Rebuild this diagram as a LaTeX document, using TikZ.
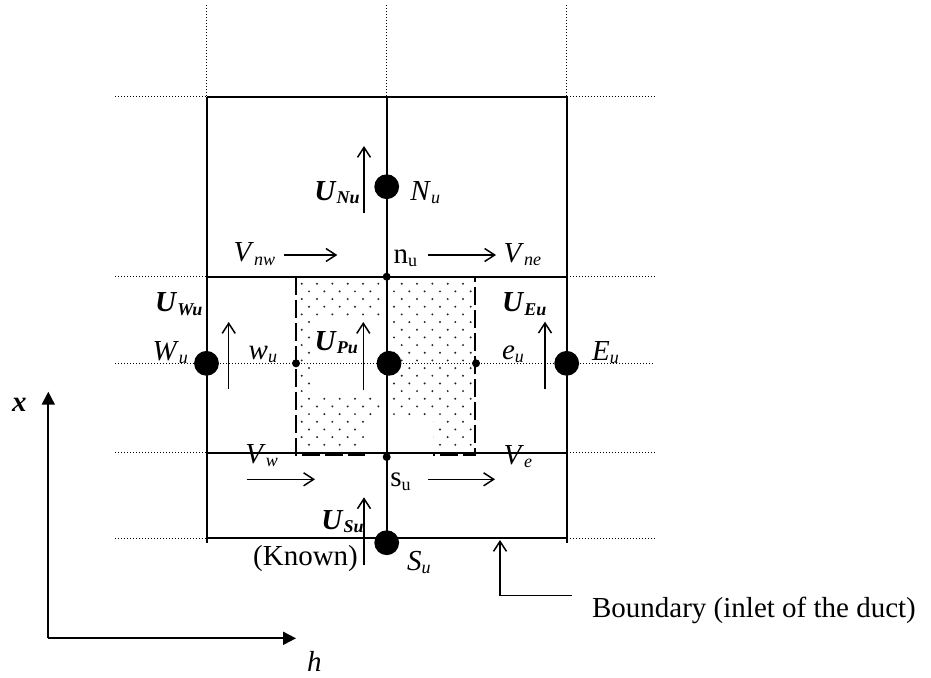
\documentclass[tikz,border=0pt]{standalone}
\usepackage{fontspec}
\setmainfont{Liberation Serif}
\usetikzlibrary{arrows.meta}
\newcommand{\sbs}[1]{\raisebox{-1.8pt}{\fontsize{9}{10}\selectfont #1}}
\newcommand{\bsub}[2]{\textbf{\textit{#1}}\sbs{\textbf{\textit{#2}}}}
\newcommand{\isub}[2]{\textit{#1}\sbs{\textit{#2}}}
\begin{document}
\begin{tikzpicture}[x=0.5pt,y=-0.5pt,
  lab/.style={inner sep=0pt, anchor=base west, font=\fontsize{14.5}{17}\selectfont},
  labr/.style={lab, anchor=base east},
  gridl/.style={line width=1pt},
  dotl/.style={line width=0.5pt, dash pattern=on 0.5pt off 1pt},
  dashl/.style={line width=1pt, dash pattern=on 9pt off 2.5pt},
  bigdot/.style={circle, fill, inner sep=0pt, minimum size=12.4pt},
  smalldot/.style={circle, fill, inner sep=0pt, minimum size=4pt},
  flow/.style={line width=0.75pt, -{Straight Barb[length=5pt,width=6.5pt]}},
  axisarr/.style={line width=1pt, -{Triangle[length=6.5pt,width=6.5pt]}}
]
\useasboundingbox (0,0) rectangle (931,677);

% dotted fill of the control volume
\foreach \k in {0,2,...,20}{
  \foreach \j in {0,...,5}{\fill[black!85] ({301.7+15.33*\j},{283.7+7.67*\k}) circle[radius=0.55pt];}
  \foreach \j in {0,...,4}{\fill[black!85] ({401.7+15.33*\j},{283.7+7.67*\k}) circle[radius=0.55pt];}
}
\foreach \k in {1,3,...,21}{
  \foreach \j in {0,...,4}{\fill[black!85] ({309+15.33*\j},{283.7+7.67*\k}) circle[radius=0.55pt];}
  \foreach \j in {0,...,5}{\fill[black!85] ({394+15.33*\j},{283.7+7.67*\k}) circle[radius=0.55pt];}
}
% dashed control volume
\draw[dashl] (296,277) rectangle (475,454.7);
% white areas
\fill[white] (312,317) rectangle (385,393);
\fill[white] (365,418) rectangle (433,460);

% dotted grid extensions
\foreach \xx in {206.5,386.7,566.7}{\draw[dotl] (\xx,5) -- (\xx,96.7);}
\foreach \yy in {96.7,276.7,452.7,538.3}{
  \draw[dotl] (115,\yy) -- (206.5,\yy);
  \draw[dotl] (566.7,\yy) -- (655,\yy);
}
\draw[dotl] (115,363.3) -- (655,363.3);

% solid grid
\draw[gridl] (206.5,96.7) -- (566.7,96.7);
\draw[gridl] (206.5,276.7) -- (566.7,276.7);
\draw[gridl] (206.5,452.7) -- (566.7,452.7);
\draw[gridl] (206.5,538.3) -- (566.7,538.3);
\draw[gridl] (206.5,96.7) -- (206.5,542.7);
\draw[gridl] (566.7,96.7) -- (566.7,542.7);
\draw[gridl] (386.7,96.7) -- (386.7,538.3);

% nodes (big dots)
\node[bigdot] (N) at (386.7,186.7) {};
\node[bigdot] (W) at (206.5,363.3) {};
\node[bigdot] (P) at (389,363.3) {};
\node[bigdot] (E) at (566.7,363.3) {};
\node[bigdot] (S) at (386.7,542.7) {};
% face points
\node[smalldot] (n) at (386.7,276.7) {};
\node[smalldot] (w) at (296,363.3) {};
\node[smalldot] (e) at (476,363.3) {};
\node[smalldot] (s) at (386.7,457) {};

% velocity arrows
\coordinate (uN1) at (364,213);   \coordinate (uN2) at (364,146);
\coordinate (uW1) at (228.7,389); \coordinate (uW2) at (228.7,322);
\coordinate (uP1) at (363.3,390.3); \coordinate (uP2) at (363.3,322);
\coordinate (uE1) at (545,389.3); \coordinate (uE2) at (545,321.7);
\coordinate (uS1) at (364,565);   \coordinate (uS2) at (364,497.3);
\coordinate (vnw1) at (284,255);  \coordinate (vnw2) at (337.3,255);
\coordinate (vne1) at (428.3,255); \coordinate (vne2) at (496,255);
\coordinate (vw1) at (246.7,479.3); \coordinate (vw2) at (315,479.3);
\coordinate (ve1) at (428.3,479.3); \coordinate (ve2) at (495,479.3);
\draw[flow] (uN1) -- (uN2);
\draw[flow] (uW1) -- (uW2);
\draw[flow] (uP1) -- (uP2);
\draw[flow] (uE1) -- (uE2);
\draw[flow] (uS1) -- (uS2);
\draw[flow] (vnw1) -- (vnw2);
\draw[flow] (vne1) -- (vne2);
\draw[flow] (vw1) -- (vw2);
\draw[flow] (ve1) -- (ve2);

% boundary pointer
\coordinate (b1) at (571.7,595.5);
\coordinate (b2) at (500,595.5);
\coordinate (b3) at (500,540);
\draw[flow] (b1) -- (b2) -- (b3);

% axes
\coordinate (O) at (48.3,638.3);
\coordinate (xt) at (48.3,391.7);
\coordinate (ht) at (296,638.3);
\draw[axisarr] (O) -- (xt);
\draw[axisarr] (O) -- (ht);

% labels
\node[labr] (lUN) at (360,200) {\bsub{U}{Nu}};
\node[lab] (lN) at (410,200) {\isub{N}{u}};
\node[lab] (lVnw) at (233.3,261.7) {\isub{V}{nw}};
\node[lab] (ln) at (393.3,263.3) {n\sbs{u}};
\node[lab] (lVne) at (503.3,262) {\isub{V}{ne}};
\node[labr] (lUW) at (202.7,311.7) {\bsub{U}{Wu}};
\node[labr] (lW) at (188.3,360) {\isub{W}{u}};
\node[lab] (lw) at (248.3,359.3) {\isub{w}{u}};
\node[labr] (lUP) at (358.3,350.3) {\bsub{U}{Pu}};
\node[lab] (le) at (501.7,359.3) {\isub{e}{u}};
\node[lab] (lUE) at (501.7,311.7) {\bsub{U}{Eu}};
\node[lab] (lE) at (591.7,360) {\isub{E}{u}};
\node[lab] (lVw) at (245,463.3) {\isub{V}{w}};
\node[lab] (lVe) at (503.3,464) {\isub{V}{e}};
\node[lab] (ls) at (390,486.7) {s\sbs{u}};
\node[labr] (lUS) at (364,529.3) {\bsub{U}{Su}};
\node[labr] (lK) at (358.3,565) {(Known)};
\node[lab] (lS) at (406.7,570) {\isub{S}{u}};
\node[lab] (lx) at (11.7,411.7) {\textbf{\textit{x}}};
\node[lab] (lh) at (306.7,671.7) {\textit{h}};
\node[lab] (lB) at (591.7,617.3) {Boundary (inlet of the duct)};
\end{tikzpicture}
\end{document}
